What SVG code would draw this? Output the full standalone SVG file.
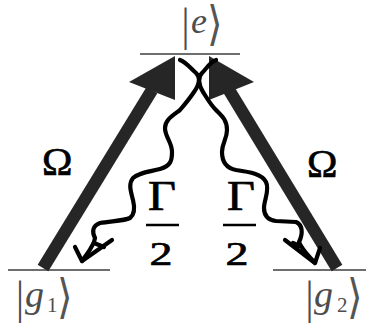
<svg xmlns="http://www.w3.org/2000/svg" width="366" height="327" viewBox="0 0 366 327">
<style>
.level{stroke:#6e6e6e;stroke-width:2;fill:none}
.shaft{stroke:#272727;stroke-width:12.5;fill:none}
.head{fill:#272727}
.wave{stroke:#000;stroke-width:4.2;fill:none;stroke-linecap:round;stroke-linejoin:round}
.ket{font-family:"Liberation Serif","DejaVu Serif",serif;fill:#4d4d4d}
.tall{font-size:40px}
.ang{font-family:"Noto Sans CJK JP","DejaVu Serif",sans-serif;font-weight:300;font-size:40px;fill:#555}
.sym{font-family:"Liberation Serif","DejaVu Serif",serif;fill:#000;stroke:#000;stroke-width:0.7}
.bar{stroke:#000;stroke-width:2.6}
</style>
<defs>
<filter id="soft" x="-10%" y="-10%" width="120%" height="120%"><feGaussianBlur stdDeviation="0.6"/></filter>
</defs>
<g id="level-e">
<line class="level" x1="140" y1="54" x2="240" y2="54"/>
<text class="ket tall" transform="translate(181.5,40) scale(1,1.18)">|</text>
<text class="ket" x="191" y="33" font-size="36" font-style="italic">e</text>
<text class="ang" transform="translate(207,40) scale(1,1.18)">⟩</text>
</g>
<g id="level-g1">
<line class="level" x1="8" y1="270" x2="110" y2="270"/>
<text class="ket tall" transform="translate(16,313) scale(1,1.18)">|</text>
<text class="ket" x="25" y="307" font-size="38" font-style="italic">g</text>
<text class="ket" x="47" y="312" font-size="21">1</text>
<text class="ang" transform="translate(57,313) scale(1,1.18)">⟩</text>
</g>
<g id="level-g2">
<line class="level" x1="273" y1="270" x2="366" y2="270"/>
<text class="ket tall" transform="translate(305.5,313) scale(1,1.18)">|</text>
<text class="ket" x="314" y="307" font-size="38" font-style="italic">g</text>
<text class="ket" x="337" y="312" font-size="21">2</text>
<text class="ang" transform="translate(347,313) scale(1,1.18)">⟩</text>
</g>
<g id="connectors">
<g id="pump-left" filter="url(#soft)">
<line class="shaft" x1="43" y1="268" x2="152" y2="90"/>
<polygon class="head" points="175,56 129,82 175,100"/>
</g>
<g id="pump-right" filter="url(#soft)">
<line class="shaft" x1="337" y1="268" x2="229" y2="90"/>
<polygon class="head" points="209,56 254,82 209,100"/>
</g>
<g id="decay-left">
<path class="wave" d="M180,60 C186,62 190,68 196,73 C201,78 199,85 194,92 C190,98 186,103 180,110 C172,116 165,120 165,128 C165,137 172,142 172,152 C172,160 171,166 160,169 C148,172 138,173 133,178 C128,184 131,192 133,200 C135,208 135,214 130,218 C124,221 110,221 100,223 C92,226 92,232 95,238 C94,246 88,252 82,261"/>
<path class="wave" d="M75,247 L82,261 L112,240 M94,243 L104,247"/>
</g>
<g id="decay-right">
<path class="wave" d="M216,60 C210,62 207,68 202,73 C197,78 199,85 203,92 C207,98 210,104 216,110 C222,116 227,120 227,130 C227,139 222,143 222,152 C222,162 226,168 236,170 C250,172 262,174 266,182 C270,190 264,200 264,208 C264,216 268,220 276,221 L296,222 C303,225 303,234 299,242 C302,250 309,256 315,263"/>
<path class="wave" d="M285,240 L315,263 L320,248 M293,243 L300,246"/>
</g>
</g>
<g id="label-omega-left"><text class="sym" x="42" y="175" font-size="41">Ω</text></g>
<g id="label-omega-right"><text class="sym" x="307" y="177" font-size="41">Ω</text></g>
<g id="label-gamma-left">
<text class="sym" font-size="42" transform="translate(148,210) scale(1.15,1)">Γ</text>
<line class="bar" x1="146" y1="225" x2="179" y2="225"/>
<text class="sym" font-size="34" text-anchor="middle" transform="translate(161,265) scale(1.35,1)">2</text>
</g>
<g id="label-gamma-right">
<text class="sym" font-size="42" transform="translate(227,210) scale(1.15,1)">Γ</text>
<line class="bar" x1="223" y1="225" x2="256" y2="225"/>
<text class="sym" font-size="34" text-anchor="middle" transform="translate(237,265) scale(1.35,1)">2</text>
</g>
</svg>
